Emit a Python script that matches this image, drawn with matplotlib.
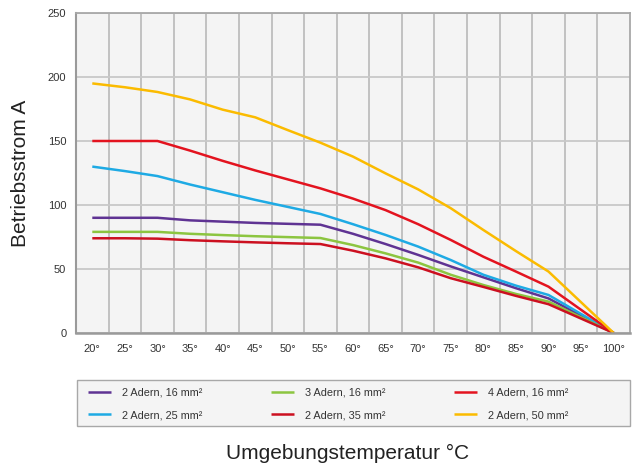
import numpy as np
import matplotlib
matplotlib.use("Agg")
import matplotlib.pyplot as plt
from matplotlib.patches import Rectangle

plt.rcParams['font.family'] = ['Liberation Sans', 'DejaVu Sans']

# temperatures (degC)
temps = [20, 25, 30, 35, 40, 45, 50, 55, 60, 65, 70, 75, 80, 85, 90, 100]

# current values
a2_16 = [90, 90, 90, 88, 87, 86, 85.3, 84.6, 77.5, 69.5, 61, 52, 43.5, 35, 27, 0]
a2_25 = [130, 126.5, 122.6, 116, 110, 104, 98.5, 93, 85, 76.6, 67.5, 57, 45.5, 37, 29.7, 0]
a3_16 = [79, 79, 79, 77.5, 76.5, 75.6, 74.9, 74.2, 68.7, 62.2, 55, 45.5, 37.5, 30.5, 24.5, 0]
a2_35 = [74, 74, 73.7, 72.5, 71.6, 70.8, 70.1, 69.5, 64.3, 58.3, 51.3, 42.8, 36, 29, 22.5, 0]
a4_16 = [150, 150, 150, 142.5, 134.5, 127, 120, 113, 105, 96, 85, 72.7, 59.6, 48, 36.2, 0]
a2_50 = [195, 192, 188.3, 182.5, 174.5, 168.5, 158.5, 148.7, 137.8, 124.7, 112.2, 97.5, 80.5, 64, 48, 0]

labels = ['2 Adern, 16 mm²', '2 Adern, 25 mm²', '3 Adern, 16 mm²',
          '2 Adern, 35 mm²', '4 Adern, 16 mm²', '2 Adern, 50 mm²']
series = [a2_16, a2_25, a3_16, a2_35, a4_16, a2_50]
colors = ['#5f3393', '#1eaae4', '#8cc540', '#cc1020', '#e3131f', '#fbbb00']

fig = plt.figure(figsize=(6.36, 4.68), dpi=100)
ax = fig.add_axes([0.1195, 0.2885, 0.871, 0.6837])
ax.set_facecolor('#f4f4f4')

handles = []
for vals, col, lab in zip(series, colors, labels):
    h, = ax.plot(temps, vals, color=col, lw=1.8, label=lab, solid_capstyle='butt')
    handles.append(h)

ax.set_xlim(17.5, 102.5)
ax.set_ylim(0, 250)
ax.set_xticks(list(range(20, 101, 5)))
ax.set_xticklabels([f'{t}°' for t in range(20, 101, 5)], fontsize=8, color='#333333')
ax.set_xticks(np.arange(22.5, 100, 5), minor=True)
ax.set_yticks([0, 50, 100, 150, 200, 250])
ax.set_yticklabels(['0', '50', '100', '150', '200', '250'], fontsize=8, color='#333333')
ax.tick_params(which='both', length=0)
ax.tick_params(axis='x', pad=8)
ax.tick_params(axis='y', pad=7)
ax.grid(False)
ax.grid(True, axis='x', which='minor', color='#b4b4b4', lw=1.1)
ax.grid(True, axis='y', which='major', color='#c8c8c8', lw=1.3)
ax.set_axisbelow(True)
for s in ax.spines.values():
    s.set_color('#a8a8a8')
    s.set_linewidth(1.3)
ax.spines['bottom'].set_color('#9a9a9a')
ax.spines['bottom'].set_linewidth(1.8)
ax.spines['left'].set_color('#9a9a9a')
ax.spines['left'].set_linewidth(1.5)

ax.set_ylabel('Betriebsstrom A', fontsize=15, color='#222222')
ax.yaxis.set_label_coords(-0.083, 0.5)
fig.text(0.546, 0.02, 'Umgebungstemperatur °C', fontsize=15, color='#222222', ha='center')

# legend box
fig.patches.append(Rectangle((77 / 636, 1 - 426 / 468), 553 / 636, 46 / 468,
                             transform=fig.transFigure, facecolor='#f4f4f4',
                             edgecolor='#a8a8a8', lw=1.0, zorder=0))
leg = fig.legend(handles=handles, labels=labels, ncol=3, loc='upper left',
                 bbox_to_anchor=(88 / 636, 1 - 387.5 / 468),
                 fontsize=7.8, frameon=False, handlelength=2.15,
                 handletextpad=1.0, borderpad=0, labelspacing=1.17,
                 columnspacing=6.3, borderaxespad=0)
for t in leg.get_texts():
    t.set_color('#333333')

fig.savefig('out.png', dpi=100)
